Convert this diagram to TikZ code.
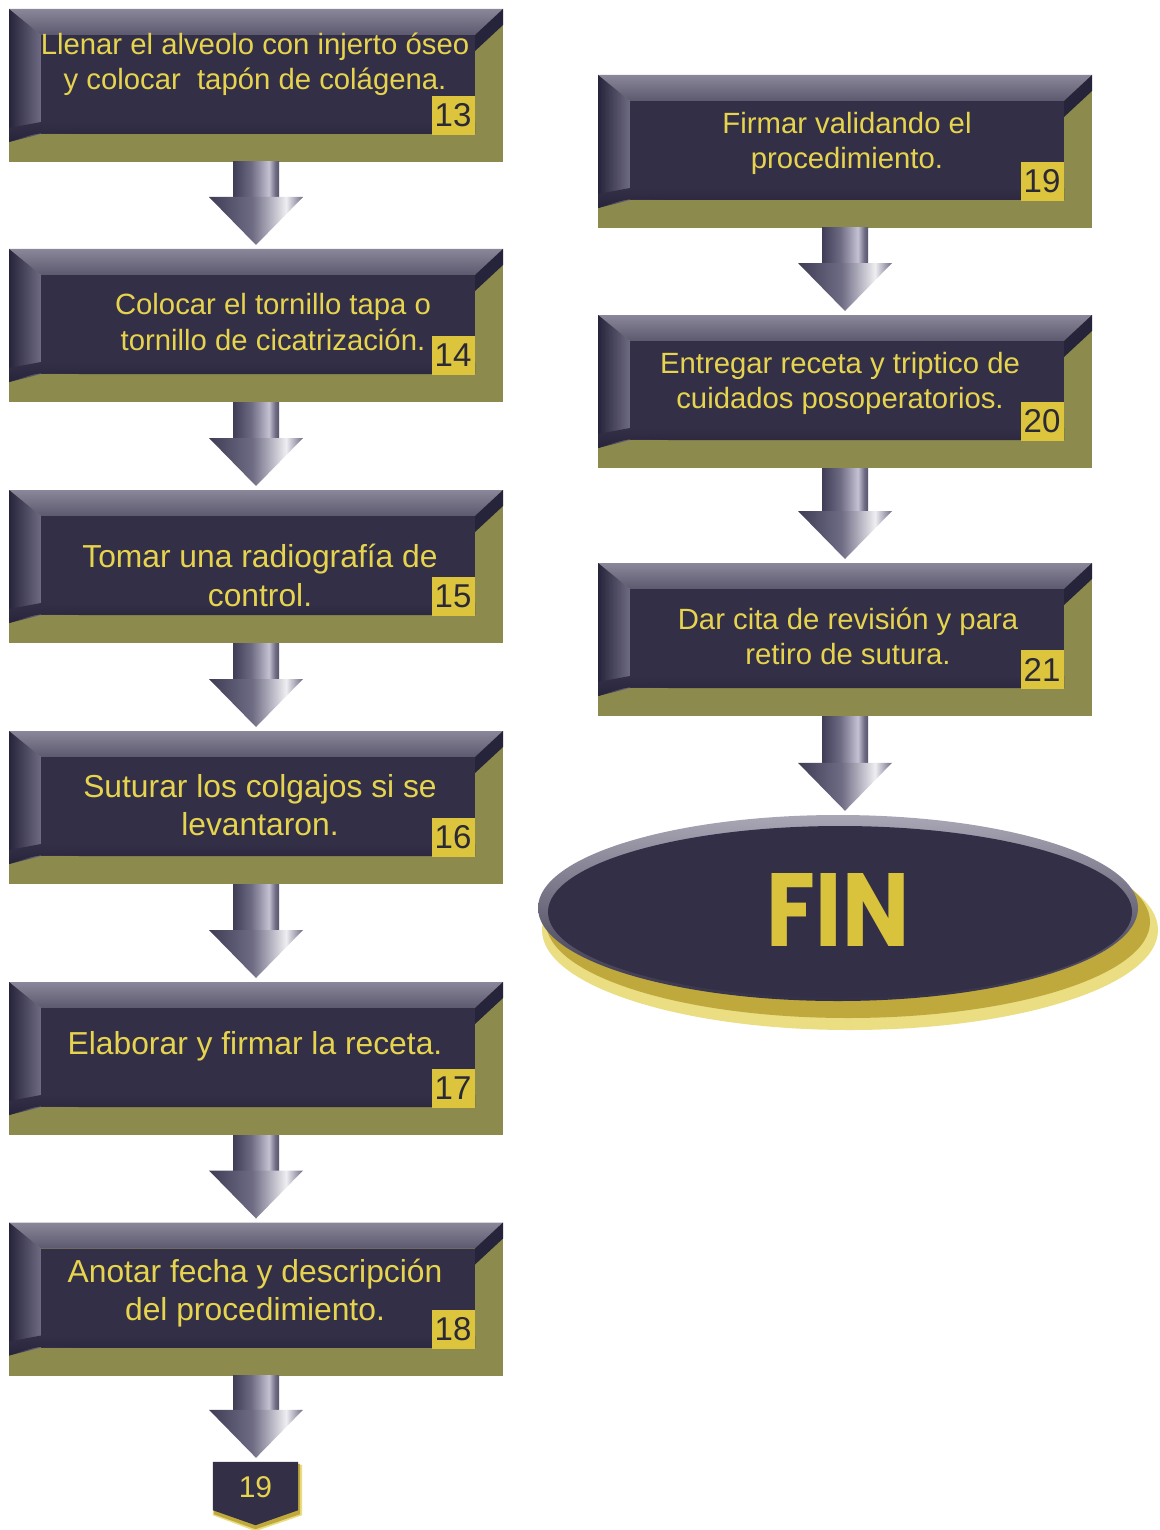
\documentclass[tikz,border=0pt]{standalone}
\usepackage{fontspec}
\setmainfont{Liberation Sans}
\newfontfamily\finfont{Poppins}
\usetikzlibrary{calc,shapes.geometric}
\definecolor{boxolive}{HTML}{8C8A4C}
\definecolor{boxnavy}{HTML}{332F47}
\definecolor{boxdark}{HTML}{26243A}
\definecolor{topgrayA}{HTML}{8A879A}
\definecolor{topgrayB}{HTML}{5C596F}
\definecolor{leftgray}{HTML}{6E6B82}
\definecolor{txtyellow}{HTML}{E6D44E}
\definecolor{badgeyellow}{HTML}{DCC43C}
\definecolor{badgetext}{HTML}{2A2935}
\definecolor{adark}{HTML}{3F3D55}
\definecolor{amid}{HTML}{6E6B84}
\definecolor{alight}{HTML}{C4C1D2}
\definecolor{adarkB}{HTML}{56546B}
\definecolor{hlight}{HTML}{EEEEF2}
\definecolor{goldglow}{HTML}{EADD82}
\definecolor{goldring}{HTML}{BFA93C}
\definecolor{rimgray}{HTML}{A9A7B5}
\definecolor{finyellow}{HTML}{D9C33C}
\pgfdeclarehorizontalshading{shaftsh}{100bp}{color(0bp)=(adark); color(25bp)=(adark); color(45bp)=(amid); color(64bp)=(alight); color(71bp)=(amid); color(75bp)=(adarkB); color(100bp)=(adarkB)}
\pgfdeclarehorizontalshading{headsh}{100bp}{color(0bp)=(adark); color(25bp)=(adark); color(48bp)=(amid); color(66bp)=(hlight); color(75bp)=(amid); color(100bp)=(amid)}
\tikzset{
  boxshape/.style={draw=none, minimum width=494pt, minimum height=153pt, inner sep=0pt, outer sep=0pt},
  steptext/.style={text=txtyellow, align=center, inner sep=0pt},
  smalltxt/.style={font=\fontsize{29.3}{35.2}\selectfont},
  bigtxt/.style={font=\fontsize{31.8}{38.2}\selectfont},
  badge/.style={fill=badgeyellow, text=badgetext, minimum width=43pt, minimum height=39pt, inner sep=0pt, font=\fontsize{33}{33}\selectfont},
  shaftshade/.style={shading=shaftsh},
  headshade/.style={shading=headsh},
}
\newcommand\flowstep[8]{%
  \node[boxshape] (#1) at (#2,#3) {};
  \fill[boxolive] (#1.north west) rectangle (#1.south east);
  \shade[top color=topgrayA, bottom color=topgrayB] (#1.north west) -- (#1.north east) -- ($(#1.north east)+(-28,-26)$) -- ($(#1.north west)+(32,-26)$) -- cycle;
  \fill[boxdark] (#1.north east) -- ($(#1.north east)+(0,-16)$) -- ($(#1.north east)+(-28,-42)$) -- ($(#1.north east)+(-28,-26)$) -- cycle;
  \shade[left color=boxdark, right color=leftgray] (#1.north west) -- ($(#1.north west)+(32,-26)$) -- ($(#1.south west)+(32,28)$) -- ($(#1.south west)+(0,20)$) -- cycle;
  \fill[boxnavy] ($(#1.north west)+(32,-26)$) rectangle ($(#1.south east)+(-28,28)$);
  \shade[top color=boxnavy, bottom color=boxdark] ($(#1.south west)+(0,20)$) .. controls ($(#1.south west)+(30,30)$) .. ($(#1.south west)+(70,28)$) -- ($(#1.south east)+(-28,28)$) -- ($(#1.south east)+(-28,40)$) -- ($(#1.south west)+(32,40)$) -- ($(#1.south west)+(0,34)$) -- cycle;
  \node[steptext, #4] at ($(#1.center)+(#6,#7)$) {#5};
  \node[badge] at ($(#1.center)+(197,-30)$) {#8};
}
\newcommand\flowarrow[2]{%
  \coordinate (hb) at ($(#1.south |- #2.north)+(0,52)$);
  \shade[shaftshade] ($(#1.south)+(-23,0)$) rectangle ($(hb)+(23,0)$);
  \shade[headshade] ($(hb)+(-47,0)$) -- ($(hb)+(47,0)$) -- ($(#1.south |- #2.north)+(0,4)$) -- cycle;
}
\begin{document}
\begin{tikzpicture}[x=1pt,y=1pt]
\useasboundingbox (0,0) rectangle (1159,-1530);
\fill[white] (0,0) rectangle (1159,-1530);

\flowstep{b13}{256}{-85.5}{smalltxt}{Llenar el alveolo con injerto óseo\\y colocar\ \ tapón de colágena.}{-1}{21}{13}
\flowstep{b14}{256}{-325.5}{smalltxt}{Colocar el tornillo tapa o\\tornillo de cicatrización.}{17}{3.5}{14}
\flowstep{b15}{256}{-566.5}{bigtxt}{Tomar una radiografía de\\control.}{4}{-9}{15}
\flowstep{b16}{256}{-807.5}{bigtxt}{Suturar los colgajos si se\\levantaron.}{4}{2.5}{16}
\flowstep{b17}{256}{-1058.5}{bigtxt}{Elaborar y firmar la receta.}{-1}{12.5}{17}
\flowstep{b18}{256}{-1299}{bigtxt}{Anotar fecha y descripción\\del procedimiento.}{-1}{6}{18}
\flowstep{b19}{845}{-151.5}{smalltxt}{Firmar validando el\\procedimiento.}{2}{8}{19}
\flowstep{b20}{845}{-391.5}{smalltxt}{Entregar receta y triptico de\\cuidados posoperatorios.}{-5}{8}{20}
\flowstep{b21}{845}{-639.5}{smalltxt}{Dar cita de revisión y para\\retiro de sutura.}{3}{3}{21}

% off-page connector
\node[draw=none, minimum width=85pt, minimum height=66pt, inner sep=0pt] (c19) at (255.5,-1495) {};
\fill[goldglow] ($(c19.north west)+(4,-3)$) -- ($(c19.north east)+(4,-3)$) -- ($(c19.south east)+(4,13)$) -- ($(c19.south)+(0,-3)$) -- ($(c19.south west)+(0,13)$) -- cycle;
\fill[goldring] ($(c19.north west)+(2,-2)$) -- ($(c19.north east)+(2,-2)$) -- ($(c19.south east)+(2,14)$) -- ($(c19.south)+(0,-1)$) -- ($(c19.south west)+(1,14)$) -- cycle;
\fill[boxnavy] (c19.north west) -- (c19.north east) -- ($(c19.south east)+(0,18)$) -- ($(c19.south)+(0,3)$) -- ($(c19.south west)+(0,18)$) -- cycle;
\node[text=txtyellow, font=\fontsize{30}{30}\selectfont] at ($(c19.center)+(0,8)$) {19};

% FIN
\node[ellipse, draw=none, minimum width=600pt, minimum height=186pt, inner sep=0pt] (fin) at (840,-908) {};
\fill[goldglow] ($(fin.center)+(10,-22)$) ellipse [x radius=308, y radius=100];
\fill[goldring] ($(fin.center)+(8,-14)$) ellipse [x radius=302, y radius=96];
\shade[top color=rimgray, bottom color=boxnavy] ($(fin.center)+(-2,0)$) ellipse [x radius=300, y radius=93];
\fill[boxnavy] ($(fin.center)+(0,-4)$) ellipse [x radius=292, y radius=86];
\node[text=finyellow, font=\finfont\bfseries\fontsize{104}{104}\selectfont, xscale=0.86, inner sep=0pt] at ($(fin.center)+(-2,-2)$) {FIN};

% arrows
\flowarrow{b13}{b14}
\flowarrow{b14}{b15}
\flowarrow{b15}{b16}
\flowarrow{b16}{b17}
\flowarrow{b17}{b18}
\flowarrow{b18}{c19}
\flowarrow{b19}{b20}
\flowarrow{b20}{b21}
\flowarrow{b21}{fin}
\end{tikzpicture}
\end{document}
